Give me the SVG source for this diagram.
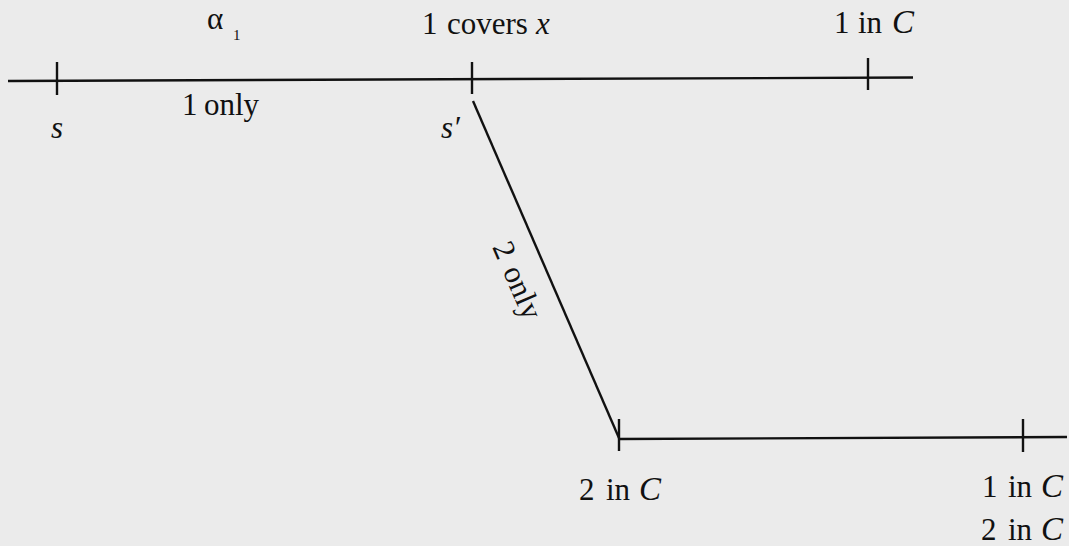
<svg xmlns="http://www.w3.org/2000/svg" width="1069" height="546" viewBox="0 0 1069 546">
<style>
.ln{stroke:#111;stroke-width:2.4;fill:none;stroke-linecap:butt}
.t{font-family:"Liberation Serif","Times New Roman",serif;font-size:31px;fill:#111}
.i{font-style:italic}
.c{font-size:33px}
</style>
<rect width="1069" height="546" fill="#ebebeb"/>
<g id="connectors">
<line class="ln" x1="8" y1="81" x2="913" y2="77.5"/>
<line class="ln" x1="473" y1="101" x2="619" y2="438"/>
<line class="ln" x1="619" y1="439" x2="1067" y2="437"/>
</g>
<g id="node-s">
<line class="ln" x1="57" y1="62" x2="57" y2="95"/>
<text class="t i" x="51" y="138">s</text>
</g>
<g id="node-alpha">
<text class="t" x="207" y="29">α</text>
<text class="t" x="233" y="40" style="font-size:15px">1</text>
</g>
<g id="node-1only">
<text class="t" x="182" y="115">1</text>
<text class="t" x="204" y="115">only</text>
</g>
<g id="node-s-prime">
<line class="ln" x1="472" y1="62" x2="472" y2="94"/>
<text class="t i" x="441" y="138">s′</text>
<text class="t" x="422" y="34">1</text>
<text class="t" x="447" y="34">covers</text>
<text class="t i" x="536" y="34">x</text>
</g>
<g id="node-top-right">
<line class="ln" x1="868" y1="58" x2="868" y2="90"/>
<text class="t" x="834" y="33">1</text>
<text class="t" x="858" y="33">in</text>
<text class="t i c" x="892" y="33">C</text>
</g>
<g id="node-2only">
<text class="t" transform="translate(492,247) rotate(66.6)">2 <tspan dx="3">only</tspan></text>
</g>
<g id="node-bottom-left">
<line class="ln" x1="619" y1="419" x2="619" y2="451"/>
<text class="t" x="579" y="500">2</text>
<text class="t" x="606" y="500">in</text>
<text class="t i c" x="639" y="500">C</text>
</g>
<g id="node-bottom-right">
<line class="ln" x1="1023" y1="419" x2="1023" y2="452"/>
<text class="t" x="982" y="497">1</text>
<text class="t" x="1008" y="497">in</text>
<text class="t i c" x="1041" y="497">C</text>
<text class="t" x="981" y="540">2</text>
<text class="t" x="1008" y="540">in</text>
<text class="t i c" x="1041" y="540">C</text>
</g>
</svg>
